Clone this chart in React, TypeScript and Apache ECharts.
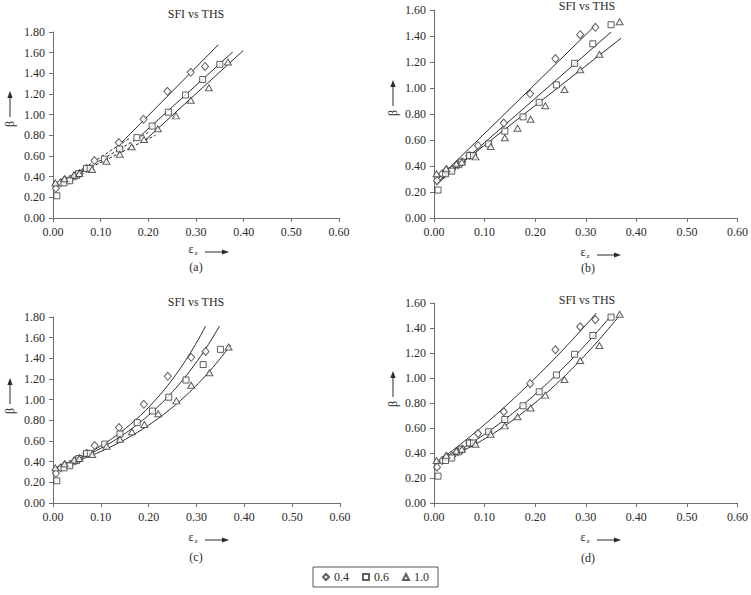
import React, { useEffect, useRef } from "react";
import * as echarts from "echarts";

// Measured points, [strain, beta]
const series04: number[][] = [
  [0.006, 0.287], [0.016, 0.34], [0.025, 0.37], [0.036, 0.375], [0.047, 0.41],
  [0.056, 0.43], [0.07, 0.48], [0.087, 0.556], [0.138, 0.73], [0.19, 0.955],
  [0.24, 1.226], [0.289, 1.41], [0.319, 1.467],
];
const series06: number[][] = [
  [0.008, 0.215], [0.023, 0.34], [0.035, 0.36], [0.049, 0.41], [0.054, 0.43],
  [0.07, 0.48], [0.078, 0.48], [0.108, 0.57], [0.14, 0.668], [0.176, 0.778],
  [0.208, 0.89], [0.242, 1.024], [0.278, 1.19], [0.314, 1.34], [0.35, 1.487],
];
const series10: number[][] = [
  [0.005, 0.34], [0.024, 0.379], [0.044, 0.417], [0.055, 0.43], [0.082, 0.47],
  [0.112, 0.55], [0.14, 0.617], [0.165, 0.69], [0.191, 0.76], [0.22, 0.863],
  [0.258, 0.988], [0.289, 1.14], [0.327, 1.26], [0.367, 1.51],
];

const seriesNames = ["0.4", "0.6", "1.0"];
const seriesData = [series04, series06, series10];
const symbols = ["diamond", "rect", "triangle"];
const symbolSizes: number[][] = [[7, 8], [6, 6], [7, 6]];

const xTicks = [0, 0.1, 0.2, 0.3, 0.4, 0.5, 0.6];
const yMaxTall = 1.8;
const yMaxShort = 1.6;
const panelLabels = ["(a)", "(b)", "(c)", "(d)"];
const titleText = "SFI vs THS";

// (a) bilinear fits: low-strain branch (dashed) and high-strain branch (solid), [x0, y0, x1, y1]
const bilinearLow: number[][] = [
  [0.005, 0.3, 0.16, 0.77],
  [0.005, 0.3, 0.2, 0.83],
  [0.005, 0.32, 0.215, 0.8],
];
const bilinearHigh: number[][] = [
  [0.145, 0.735, 0.347, 1.677],
  [0.18, 0.78, 0.377, 1.607],
  [0.195, 0.76, 0.399, 1.62],
];
// (b) linear fits: [intercept, slope, xStart, xEnd]
const linearFits: number[][] = [
  [0.27, 3.8, 0.005, 0.32],
  [0.24, 3.4, 0.005, 0.35],
  [0.255, 3.05, 0.005, 0.37],
];
// (c) exponential fits a*exp(b*x): [a, b, xStart, xEnd]
const expFits: number[][] = [
  [0.33, 5.16, 0.005, 0.319],
  [0.33, 4.73, 0.005, 0.348],
  [0.33, 4.13, 0.005, 0.371],
];
// (d) quadratic fits c0 + c1*x + c2*x^2: [c0, c1, c2, xStart, xEnd]
const quadFits: number[][] = [
  [0.31, 2.91, 2.67, 0.005, 0.321],
  [0.31, 2.0, 3.98, 0.005, 0.352],
  [0.32, 1.443, 4.84, 0.005, 0.369],
];

const FONT = '"Liberation Serif", "Times New Roman", serif';
const INK = "#2b2b2b";
const AXIS = "#6e6e6e";

const sampleCurve = (f: (x: number) => number, x0: number, x1: number, n = 60) => {
  const pts: number[][] = [];
  for (let i = 0; i <= n; i++) {
    const x = x0 + ((x1 - x0) * i) / n;
    pts.push([x, f(x)]);
  }
  return pts;
};

// Panel frames in pixels: left, top, width, height
const grids = [
  { left: 53, top: 32, width: 286, height: 186 },
  { left: 434, top: 10, width: 305, height: 208 },
  { left: 53, top: 317, width: 287, height: 186 },
  { left: 434, top: 303, width: 305, height: 200 },
];

const arrow = (x1: number, y1: number, x2: number, y2: number) => {
  const dx = x2 - x1;
  const dy = y2 - y1;
  const len = Math.hypot(dx, dy);
  const ux = dx / len;
  const uy = dy / len;
  const hl = 7;
  const hw = 2.6;
  const bx = x2 - ux * hl;
  const by = y2 - uy * hl;
  return [
    { type: "line", shape: { x1, y1, x2: bx, y2: by }, style: { stroke: INK, lineWidth: 1 } },
    {
      type: "polygon",
      shape: { points: [[x2, y2], [bx - uy * hw, by + ux * hw], [bx + uy * hw, by - ux * hw]] },
      style: { fill: INK },
    },
  ];
};

const centerText = (text: string, x: number, y: number, size = 12, rotation = 0) => ({
  type: "text",
  x,
  y,
  rotation,
  style: {
    text,
    fontFamily: FONT,
    fontSize: size,
    fill: INK,
    align: "center",
    verticalAlign: "middle",
  },
});

export default function App() {
  const ref = useRef<HTMLDivElement>(null);

  useEffect(() => {
    if (!ref.current) return;
    const chart = echarts.init(ref.current, null, { renderer: "svg" });

    const series: any[] = [];
    const lineStyle = { color: INK, width: 1 };

    const addFit = (gi: number, data: number[][], dashed = false) => {
      series.push({
        type: "line",
        xAxisIndex: gi,
        yAxisIndex: gi,
        data,
        symbol: "none",
        silent: true,
        z: 2,
        lineStyle: dashed ? { ...lineStyle, type: [3, 2] } : lineStyle,
      });
    };

    for (let k = 0; k < 3; k++) {
      const lo = bilinearLow[k];
      const hi = bilinearHigh[k];
      addFit(0, [[lo[0], lo[1]], [lo[2], lo[3]]], true);
      addFit(0, [[hi[0], hi[1]], [hi[2], hi[3]]]);
      const [b0, b1, lx0, lx1] = linearFits[k];
      addFit(1, [[lx0, b0 + b1 * lx0], [lx1, b0 + b1 * lx1]]);
      const [ea, eb, ex0, ex1] = expFits[k];
      addFit(2, sampleCurve((x) => ea * Math.exp(eb * x), ex0, ex1));
      const [q0, q1, q2, qx0, qx1] = quadFits[k];
      addFit(3, sampleCurve((x) => q0 + q1 * x + q2 * x * x, qx0, qx1));
    }

    for (let gi = 0; gi < 4; gi++) {
      for (let k = 0; k < 3; k++) {
        series.push({
          type: "scatter",
          name: seriesNames[k],
          xAxisIndex: gi,
          yAxisIndex: gi,
          data: seriesData[k],
          symbol: symbols[k],
          symbolSize: symbolSizes[k],
          z: 5,
          itemStyle: { color: "#ffffff", borderColor: "#3a3a3a", borderWidth: 1 },
        });
      }
    }

    const xAxes = grids.map((_, gi) => ({
      type: "value",
      gridIndex: gi,
      min: xTicks[0],
      max: xTicks[xTicks.length - 1],
      interval: 0.1,
      splitLine: { show: false },
      axisLine: { lineStyle: { color: AXIS, width: 1 } },
      axisTick: { length: 4, lineStyle: { color: AXIS } },
      axisLabel: {
        fontFamily: FONT,
        fontSize: 12,
        color: INK,
        margin: 8,
        formatter: (v: number) => v.toFixed(2),
      },
    }));

    const yAxes = grids.map((_, gi) => ({
      type: "value",
      gridIndex: gi,
      min: 0,
      max: gi === 0 || gi === 2 ? yMaxTall : yMaxShort,
      interval: 0.2,
      splitLine: { show: false },
      axisLine: { show: true, lineStyle: { color: AXIS, width: 1 } },
      axisTick: { show: true, length: 4, lineStyle: { color: AXIS } },
      axisLabel: {
        fontFamily: FONT,
        fontSize: 12,
        color: INK,
        margin: 8,
        formatter: (v: number) => v.toFixed(2),
      },
    }));

    // Annotation anchors per panel
    const titlePos = [[196, 14], [587, 6], [196, 302], [587, 300]];
    const epsPos = [[191, 249], [583, 252], [191, 537], [583, 537]];
    const tagPos = [[196, 267], [588, 268], [196, 557], [588, 558]];
    const betaPos = [[10, 124], [393, 113], [10, 411], [393, 404]];

    const graphics: any[] = [];
    for (let gi = 0; gi < 4; gi++) {
      graphics.push(centerText(titleText, titlePos[gi][0], titlePos[gi][1]));
      const [ex, ey] = epsPos[gi];
      graphics.push(centerText("ε", ex, ey, 12));
      graphics.push(centerText("z", ex + 5, ey + 4, 7));
      graphics.push(...arrow(ex + 14, ey + 3, ex + 38, ey + 3));
      graphics.push(centerText(panelLabels[gi], tagPos[gi][0], tagPos[gi][1]));
      const [bx, by] = betaPos[gi];
      graphics.push(centerText("β", bx, by, 12, Math.PI / 2));
      graphics.push(...arrow(bx, by - 7, bx, by - 33));
    }

    chart.setOption({
      animation: false,
      backgroundColor: "#ffffff",
      grid: grids.map((g) => ({ ...g, containLabel: false })),
      xAxis: xAxes,
      yAxis: yAxes,
      series,
      graphic: graphics,
      legend: {
        data: seriesNames,
        left: "center",
        top: 567,
        orient: "horizontal",
        borderColor: "#555",
        borderWidth: 1,
        borderRadius: 0,
        padding: [4, 9, 4, 9],
        itemWidth: 6,
        itemHeight: 6,
        itemGap: 13,
        selectedMode: false,
        textStyle: { fontFamily: FONT, fontSize: 12, color: INK },
      },
    });

    return () => chart.dispose();
  }, []);

  return (
    <div
      ref={ref}
      style={{ position: "fixed", left: 0, top: 0, width: 751, height: 595, background: "#fff" }}
    />
  );
}
